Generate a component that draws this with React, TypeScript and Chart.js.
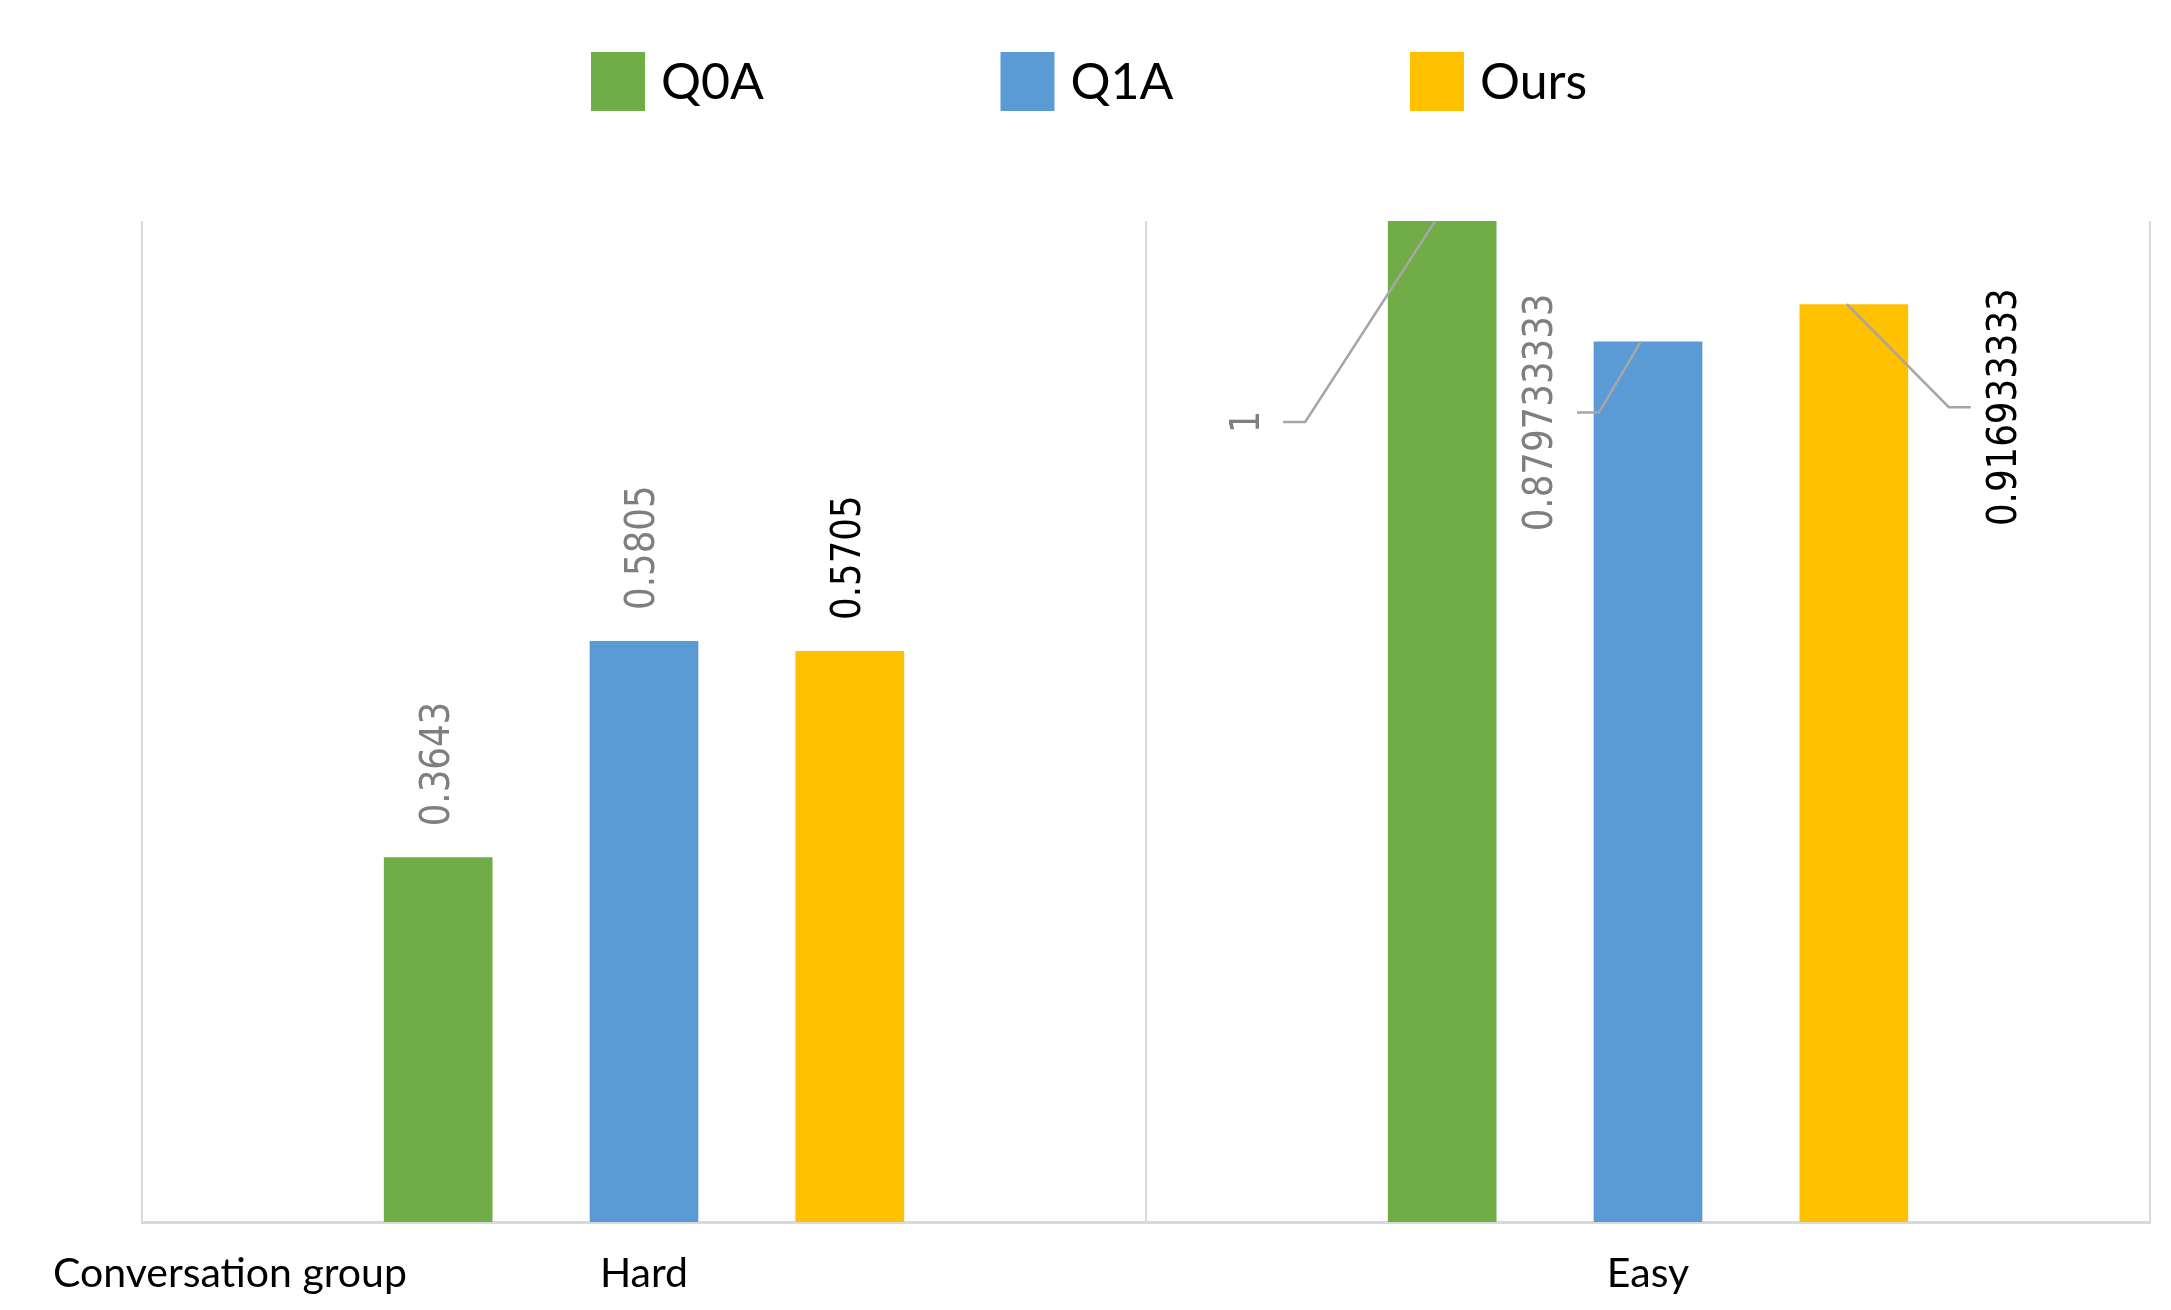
import { useEffect, useRef } from 'react';
import { Chart, registerables } from 'chart.js';

Chart.register(...registerables);

// ---- data ----
const categories = ['Hard', 'Easy'];
const seriesNames = ['Q0A', 'Q1A', 'Ours'];
const q0aValues = [0.3643, 1];
const q1aValues = [0.5805, 0.879733333];
const oursValues = [0.5705, 0.916933333];
const groupTitle = 'Conversation group';

// ---- styling ----
const seriesColors = ['#70AD47', '#5B9BD5', '#FFC000'];
const labelColors = ['#7f7f7f', '#7f7f7f', '#000000'];
const uiFont = 'Lato';
const axisFontSize = 41;
const labelFont = '40px "DejaVu Sans"';
// dragged data labels in the "Easy" group: [dx, dy] from bar top centre (px)
const easyLabelOffsets = [
  [-194, 201],
  [-106, 71],
  [152, 103],
];

const legendRow = {
  id: 'legendRow',
  afterDraw(chart: any) {
    const ctx = chart.ctx;
    const step = 409.5;
    const x0 = chart.width / 2 - 494.5;
    ctx.save();
    chart.data.datasets.forEach((ds: any, i: number) => {
      const bx = x0 + i * step;
      ctx.fillStyle = ds.backgroundColor;
      ctx.fillRect(bx, 52, 54, 59);
      ctx.fillStyle = '#000';
      ctx.font = `50px ${uiFont}`;
      ctx.textBaseline = 'alphabetic';
      ctx.textAlign = 'left';
      ctx.fillText(ds.label, bx + 70, 99);
    });
    ctx.restore();
  },
};

const groupLabel = {
  id: 'groupLabel',
  afterDraw(chart: any) {
    const scale = chart.scales.x;
    const items = scale.getLabelItems ? scale.getLabelItems() : [];
    const ctx = chart.ctx;
    ctx.save();
    ctx.fillStyle = '#000';
    ctx.font = `${axisFontSize}px ${uiFont}`;
    ctx.textAlign = 'left';
    if (items.length) {
      const it = items[0];
      ctx.textBaseline = it.options.textBaseline;
      ctx.fillText(groupTitle, 53, it.options.translation[1] + (it.textOffset || 0));
    } else {
      ctx.textBaseline = 'alphabetic';
      ctx.fillText(groupTitle, 53, 1288);
    }
    ctx.restore();
  },
};

const valueLabels = {
  id: 'valueLabels',
  afterDatasetsDraw(chart: any) {
    const ctx = chart.ctx;
    chart.data.datasets.forEach((ds: any, di: number) => {
      const meta = chart.getDatasetMeta(di);
      meta.data.forEach((bar: any, i: number) => {
        const { x, y } = bar.getProps(['x', 'y'], true);
        const text = String(ds.data[i]);
        ctx.save();
        ctx.font = labelFont;
        ctx.fillStyle = labelColors[di];
        if (i === 1) {
          const [dx, dy] = easyLabelOffsets[di];
          const lx = x + dx;
          const ly = y + dy;
          const side = Math.sign(dx);
          ctx.strokeStyle = '#a6a6a6';
          ctx.lineWidth = 2.5;
          ctx.beginPath();
          ctx.moveTo(x - 7, y);
          ctx.lineTo(lx - side * 57, ly);
          ctx.lineTo(lx - side * 35, ly);
          ctx.stroke();
          ctx.translate(lx, ly);
          ctx.rotate(-Math.PI / 2);
          ctx.scale(0.89, 1);
          ctx.textAlign = 'center';
          ctx.textBaseline = 'middle';
          ctx.fillText(text, 0, 0);
        } else {
          ctx.translate(x, y - 31);
          ctx.rotate(-Math.PI / 2);
          ctx.scale(0.89, 1);
          ctx.textAlign = 'left';
          ctx.textBaseline = 'middle';
          ctx.fillText(text, 0, 0);
        }
        ctx.restore();
      });
    });
  },
};

export default function App() {
  const canvasRef = useRef<HTMLCanvasElement | null>(null);

  useEffect(() => {
    if (!canvasRef.current) return;
    const values = [q0aValues, q1aValues, oursValues];
    const chart = new Chart(canvasRef.current, {
      type: 'bar',
      data: {
        labels: categories,
        datasets: seriesNames.map((name, i) => ({
          label: name,
          data: values[i],
          backgroundColor: seriesColors[i],
          borderWidth: 0,
          categoryPercentage: 0.615,
          barPercentage: 0.528,
        })),
      },
      options: {
        animation: false,
        responsive: true,
        maintainAspectRatio: false,
        layout: { padding: { left: 142, right: 21, top: 221, bottom: 0 } },
        plugins: {
          legend: { display: false },
          tooltip: { enabled: false },
        },
        scales: {
          x: {
            grid: { display: true, offset: true, color: '#d9d9d9', lineWidth: 2, drawTicks: false },
            border: { display: true, color: '#d9d9d9', width: 3 },
            ticks: { color: '#000', font: { family: uiFont, size: axisFontSize }, padding: 27 },
            afterFit: (scale: any) => {
              scale.height = 88;
            },
          },
          y: { display: false, min: 0, max: 1 },
        },
      },
      plugins: [legendRow, groupLabel, valueLabels],
    });
    return () => chart.destroy();
  }, []);

  return (
    <div style={{ position: 'absolute', left: 0, top: 0, width: 2171, height: 1310, background: '#fff' }}>
      <canvas ref={canvasRef} />
    </div>
  );
}
